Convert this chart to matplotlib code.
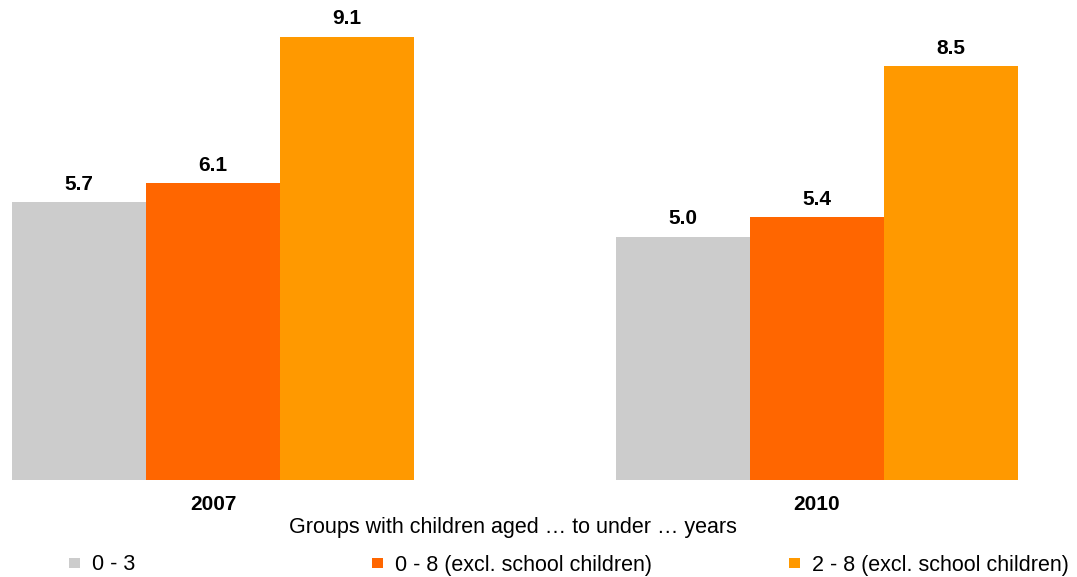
import matplotlib.pyplot as plt
import numpy as np

years = ["2007", "2010"]
series_labels = [
    "0 - 3",
    "0 - 8 (excl. school children)",
    "2 - 8 (excl. school children)",
]
values_0_3 = [5.7, 5.0]
values_0_8 = [6.1, 5.4]
values_2_8 = [9.1, 8.5]
colors = ["#CCCCCC", "#FF6600", "#FF9900"]

plt.rcParams["font.family"] = ["Liberation Sans", "DejaVu Sans"]

W, H = 1077, 577
fig = plt.figure(figsize=(W / 100, H / 100), dpi=100)
# axes spans full width, baseline at 480 px from top
ax = fig.add_axes([0, (H - 480) / H, 1, 480 / H])

x = np.arange(len(years))
width = 134 / 604
px_per_unit = 48.7
series = [values_0_3, values_0_8, values_2_8]

handles = []
for i, (vals, color, label) in enumerate(zip(series, colors, series_labels)):
    bars = ax.bar(x + (i - 1) * width, vals, width, color=color, label=label)
    handles.append(bars)
    for b, v in zip(bars, vals):
        ax.annotate(f"{v:.1f}", (b.get_x() + b.get_width() / 2, v),
                    xytext=(0, 6), textcoords="offset points",
                    ha="center", va="bottom", fontsize=15, fontweight="bold")

ax.set_xlim(-213 / 604, (W - 213) / 604)
ax.set_ylim(0, 480 / px_per_unit)
for s in ax.spines.values():
    s.set_visible(False)
ax.set_yticks([])
ax.set_xticks(x)
ax.set_xticklabels(years, fontsize=15, fontweight="bold")
ax.tick_params(axis="x", length=0, pad=11)

fig.text(513 / W, 1 - 527 / H, "Groups with children aged \u2026 to under \u2026 years",
         ha="center", va="center", fontsize=15.5)

legend_x = [69, 372, 789]
for h, label, lx in zip(handles, series_labels, legend_x):
    fig.legend([h], [label], loc="center left",
               bbox_to_anchor=(lx / W, 1 - 565 / H), frameon=False,
               fontsize=15.5, handlelength=0.51, handleheight=0.33,
               handletextpad=0.56, borderpad=0, borderaxespad=0)

fig.savefig("out.png", dpi=100)
plt.close(fig)
